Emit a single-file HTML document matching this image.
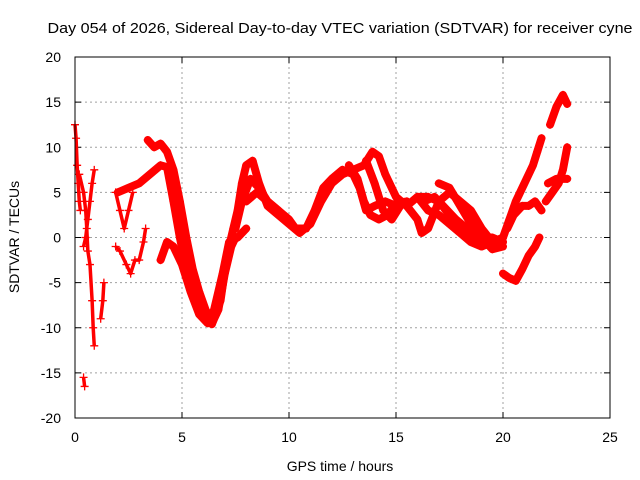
<!DOCTYPE html>
<html><head><meta charset="utf-8"><style>
body{margin:0;background:#fff;}
svg{display:block;font-family:"Liberation Sans",sans-serif;}
</style></head><body>
<svg id="chart" width="640" height="480">
<rect width="640" height="480" fill="#fff"/>
<text x="340" y="33" font-size="15" text-anchor="middle" textLength="585" lengthAdjust="spacingAndGlyphs">Day 054 of 2026, Sidereal Day-to-day VTEC variation (SDTVAR) for receiver cyne</text>
<g id="grid"></g>
<g id="axes"></g>
<g id="series"></g>
<rect x="75" y="57" width="535" height="361" fill="none" stroke="#000" stroke-width="1"/>
<text x="340" y="471" font-size="14" text-anchor="middle">GPS time / hours</text>
<text transform="translate(19,237) rotate(-90)" font-size="14" text-anchor="middle">SDTVAR / TECUs</text>
</svg>
<script>
const xTicks=[0,5,10,15,20,25];
const yTicks=[-20,-15,-10,-5,0,5,10,15,20];
const trackA=[[3.4,10.8],[3.7,10],[4.0,10.4],[4.3,9.5],[4.6,7.5],[4.9,4],[5.2,0],[5.5,-3.5],[5.8,-6],[6.1,-8],[6.4,-9.5],[6.7,-8],[7.0,-4],[7.3,-1],[7.5,0]];
const trackB=[[2.0,5],[2.5,5.5],[3.0,6],[3.5,7],[4.0,8],[4.3,7.8],[4.6,4],[4.9,0],[5.2,-3.5],[5.5,-6.5],[5.8,-8],[6.1,-9.2],[6.4,-9.6],[6.8,-7],[7.1,-2],[7.4,1],[7.6,3],[7.8,6],[8.0,8],[8.3,8.5],[8.6,6],[9,3.5],[9.5,2.5],[10,1.5],[10.5,0.5],[11,1.5],[11.5,4],[12,6],[12.5,7],[13,7.5],[13.5,8],[13.9,9.5],[14.2,9],[14.5,7],[15,4.5],[15.5,3.5],[16,4.5],[16.5,4.5],[17,4],[17.5,2.5],[18,1],[18.5,0],[19,0],[19.5,0],[20,-0.5]];
const trackC=[[4.0,-2.5],[4.3,-0.5],[4.6,-1],[5.0,-3],[5.4,-6],[5.8,-8.5],[6.2,-9.5],[6.5,-8],[6.9,-4],[7.2,-0.5],[7.6,0],[8,1]];
const trackX=[[7.5,1],[7.8,4],[8.2,6.5],[8.6,5.5],[9,4],[9.5,3]];
const trackD=[[8.0,4],[8.5,5],[9,4],[9.5,3],[10,2],[10.3,1],[10.8,1],[11.2,3],[11.6,5.5],[12,6.5],[12.5,7.5],[13,7],[13.3,5.5],[13.6,3],[14,3.5],[14.5,4],[15,3.5]];
const trackE=[[12.8,8],[13.2,6.5],[13.5,4],[13.8,2.5],[14.2,2],[14.6,2.5],[15,3.8],[15.5,4]];
const trackF=[[13.6,8.5],[14.0,6],[14.4,3],[14.8,2],[15.2,3.5]];
const trackG=[[16.0,4.5],[16.5,3],[17,2.5],[17.5,1.5],[18,0.5],[18.5,-0.5],[19,-1],[19.5,-0.5],[20,0]];
const trackH=[[15.5,3.5],[16,2],[16.2,0.5],[16.5,1],[17,4],[17.5,5],[18,4],[18.5,3],[19,1],[19.5,-0.5]];
const trackI=[[16.3,4],[16.8,4.5],[17.2,3.5],[17.8,2],[18.3,1],[18.8,-0.3],[19.3,-0.8]];
const trackJ=[[17,6],[17.5,5.5],[18,3.5],[18.5,1.5],[19,0],[19.5,-1.3],[20,-1]];
const trackK=[[20,0],[20.3,2],[20.6,4],[21,6],[21.4,8],[21.6,9.5],[21.8,11]];
const trackL=[[20.2,1],[20.5,2.5],[20.9,3.5],[21.2,3.5],[21.5,4],[21.8,3]];
const trackM=[[20,-4],[20.3,-4.5],[20.6,-4.8],[20.9,-3.5],[21.2,-2],[21.5,-1],[21.7,0]];
const trackN=[[22.2,12.5],[22.5,14.5],[22.8,15.8],[23.0,14.8]];
const trackO=[[22.0,4],[22.3,5],[22.6,6],[22.8,7.5],[23.0,10]];
const trackP=[[22.1,6],[22.5,6.5],[23,6.5]];
const trackQ=[[0,12.5],[0.05,11],[0.1,8],[0.15,6],[0.2,4],[0.25,3]];
const trackR=[[0.2,7],[0.4,5],[0.5,3],[0.55,1],[0.6,-1.5],[0.7,-3],[0.8,-7],[0.85,-10],[0.9,-12]];
const trackS=[[0.4,-1],[0.5,0],[0.6,2],[0.7,4],[0.8,6],[0.9,7.5]];
const trackT=[[1.2,-9],[1.3,-7],[1.35,-5]];
const trackW=[[0.4,-15.5],[0.45,-16.5]];
const trackU=[[1.9,-1],[2.1,-1.5],[2.4,-3],[2.6,-4],[2.8,-2.5],[3.0,-2.5],[3.2,-0.5],[3.3,1]];
const trackV=[[1.9,5],[2.1,3],[2.3,1],[2.5,3],[2.7,5]];
const denseTracks=[trackA,trackB,trackC,trackX,trackD,trackE,trackF,trackG,trackH,trackI,trackJ,trackK,trackL,trackM,trackN,trackO,trackP];
const sparseTracks=[trackQ,trackR,trackS,trackT,trackW,trackU,trackV];

const NS="http://www.w3.org/2000/svg";
function xs(h){return 75+h*(535/25);}
function ys(v){return 237.5-v*(361/40);}
function mk(t,a,p){const e=document.createElementNS(NS,t);for(const k in a)e.setAttribute(k,a[k]);p.appendChild(e);return e;}
const grid=document.getElementById('grid'),axes=document.getElementById('axes'),ser=document.getElementById('series');
xTicks.forEach(t=>{const x=xs(t);
 if(t>0&&t<25){const g=mk('line',{x1:x,x2:x,y1:57,y2:418,stroke:'#a0a0a0','stroke-dasharray':'2,3'},grid);
 
 }
 mk('line',{x1:x,x2:x,y1:418,y2:412,stroke:'#000'},axes);mk('line',{x1:x,x2:x,y1:57,y2:63,stroke:'#000'},axes);
 const l=mk('text',{x:x,y:442,'font-size':14,'text-anchor':'middle'},axes);l.textContent=t;
 
 });
yTicks.forEach(t=>{const y=ys(t);
 if(t>-20&&t<20){const g=mk('line',{x1:75,x2:610,y1:y,y2:y,stroke:'#a0a0a0','stroke-dasharray':'2,3'},grid);
 
 }
 mk('line',{x1:75,x2:81,y1:y,y2:y,stroke:'#000'},axes);mk('line',{x1:610,x2:604,y1:y,y2:y,stroke:'#000'},axes);
 const l=mk('text',{x:61,y:y+5,'font-size':14,'text-anchor':'end'},axes);l.textContent=t;
 
 });
function plus(p,g){const x=xs(p[0]),y=ys(p[1]);
 mk('path',{d:`M${x-4},${y}h8M${x},${y-4}v8`,stroke:'#f00','stroke-width':1.3},g);}
denseTracks.forEach(tr=>{const g=mk('g',{},ser);
 
 
 mk('polyline',{points:tr.map(p=>xs(p[0])+','+ys(p[1])).join(' '),fill:'none',stroke:'#f00','stroke-width':8,'stroke-linejoin':'round','stroke-linecap':'round'},g);
 tr.forEach(p=>plus(p,g));});
sparseTracks.forEach(tr=>{const g=mk('g',{},ser);
 
 
 mk('polyline',{points:tr.map(p=>xs(p[0])+','+ys(p[1])).join(' '),fill:'none',stroke:'#f00','stroke-width':3.5,'stroke-linejoin':'round'},g);
 tr.forEach(p=>plus(p,g));});
</script>
</body></html>
